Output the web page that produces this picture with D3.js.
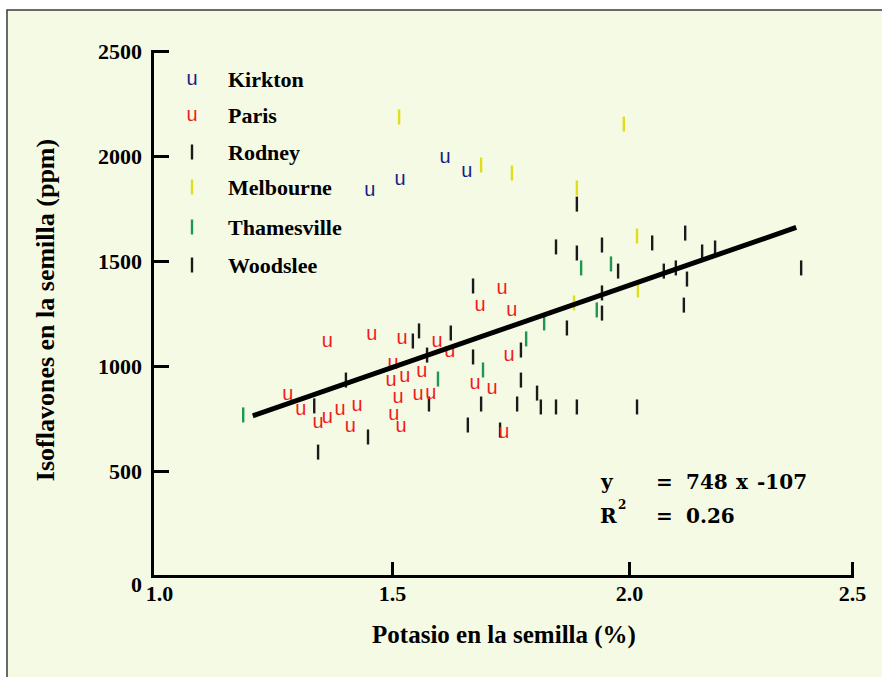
<!DOCTYPE html>
<html>
<head>
<meta charset="utf-8">
<script src="https://cdn.jsdelivr.net/npm/d3@7"></script>
<style>
  body { margin: 0; background: #ffffff; }
  svg { display: block; }
  .tick text { font-family: "Liberation Serif", "Times New Roman", serif; font-weight: bold; font-size: 22px; fill: #000; }
  .lbl { font-family: "Liberation Serif", "Times New Roman", serif; font-weight: bold; fill: #000; }
  .eq { font-family: "DejaVu Serif", serif; font-weight: bold; font-size: 20px; fill: #000; }
  .mark-u { font-family: "Liberation Sans", Arial, sans-serif; font-size: 20px; }
</style>
</head>
<body>
<svg id="chart" width="882" height="677"></svg>
<script>
// [K %, isoflavones ppm] per site
var kirkton = [[1.454, 1838], [1.517, 1890], [1.612, 1995], [1.658, 1924]];
var paris = [
  [1.283, 862], [1.365, 1119], [1.458, 1148], [1.521, 1133], [1.595, 1119], [1.622, 1071],
  [1.502, 1014], [1.498, 933], [1.527, 948], [1.563, 976], [1.310, 795], [1.346, 733],
  [1.365, 757], [1.392, 795], [1.427, 814], [1.413, 714], [1.513, 852], [1.504, 771],
  [1.519, 710], [1.555, 862], [1.582, 871], [1.732, 1371], [1.686, 1290], [1.753, 1262],
  [1.747, 1048], [1.675, 919], [1.711, 895], [1.736, 681]
];
var rodney = [
  [1.890, 1771], [1.846, 1567], [1.890, 1538], [1.943, 1576], [1.977, 1452], [2.052, 1586],
  [2.078, 1452], [2.105, 1467], [2.130, 1414], [2.123, 1290], [2.164, 1543], [2.193, 1562],
  [2.126, 1633], [2.386, 1467], [1.943, 1348], [1.943, 1252], [1.869, 1181], [2.018, 805]
];
var melbourne = [
  [1.515, 2186], [1.688, 1957], [1.753, 1919], [1.890, 1848], [1.989, 2152], [2.018, 1619],
  [2.020, 1362], [1.884, 1300]
];
var thamesville = [
  [1.190, 767], [1.597, 938], [1.692, 981], [1.783, 1129], [1.821, 1205], [1.899, 1467],
  [1.962, 1486], [1.932, 1267]
];
var woodslee = [
  [1.346, 590], [1.450, 662], [1.338, 810], [1.404, 933], [1.544, 1119], [1.557, 1167],
  [1.574, 1052], [1.578, 819], [1.624, 1157], [1.671, 1381], [1.671, 1043], [1.660, 719],
  [1.728, 695], [1.688, 819], [1.764, 819], [1.772, 933], [1.772, 1076], [1.806, 871],
  [1.814, 805], [1.846, 805], [1.890, 805]
];

var siteNames = ["Kirkton", "Paris", "Rodney", "Melbourne", "Thamesville", "Woodslee"];
var siteData = [kirkton, paris, rodney, melbourne, thamesville, woodslee];
var siteColors = ["#1c1c8c", "#f21e1e", "#1a1a1a", "#dede1e", "#1f9652", "#1a1a1a"];
var siteMarks = ["u", "u", "bar", "bar", "bar", "bar"];

var xTicks = [1.0, 1.5, 2.0, 2.5];
var yTicks = [0, 500, 1000, 1500, 2000, 2500];

// fitted line end points
var fitK = [1.21, 2.375];
var fitIso = [763, 1660];

var svg = d3.select("#chart");

// panel
svg.append("rect")
    .attr("x", 7).attr("y", 10)
    .attr("width", 900).attr("height", 700)
    .attr("fill", "#f5fae5")
    .attr("stroke", "#3a3a3a")
    .attr("stroke-width", 1.5);

// the original axis is not evenly spaced, so a piecewise scale
var x = d3.scaleLinear().domain(xTicks).range([152, 392, 629, 852]);
var y = d3.scaleLinear().domain([0, 2500]).range([576, 51]);

var yAxis = svg.append("g")
    .attr("transform", "translate(152,0)")
    .call(d3.axisLeft(y).tickValues(yTicks).tickSize(-17).tickSizeOuter(0).tickPadding(10)
        .tickFormat(d3.format("d")));

var xAxis = svg.append("g")
    .attr("transform", "translate(0,576)")
    .call(d3.axisBottom(x).tickValues(xTicks).tickSize(-14).tickSizeOuter(0).tickPadding(9)
        .tickFormat(d3.format(".1f")));

[yAxis, xAxis].forEach(function(g) {
    g.select(".domain").attr("stroke", "#000").attr("stroke-width", 3).attr("stroke-linecap", "square");
    g.selectAll(".tick line").attr("stroke", "#000").attr("stroke-width", 3);
});
yAxis.selectAll(".tick text").attr("dy", "0.36em");
yAxis.selectAll(".tick").filter(function(d) { return d === 0; }).select("text").attr("dy", "0.72em");
yAxis.selectAll(".tick").filter(function(d) { return d === 0; }).select("line").remove();
xAxis.selectAll(".tick").filter(function(d) { return d === 1.0; }).select("text").attr("dx", 7);
xAxis.selectAll(".tick").filter(function(d) { return d === 1.0; }).select("line").remove();

// axis titles
svg.append("text")
    .attr("class", "lbl")
    .attr("x", 504).attr("y", 643)
    .attr("text-anchor", "middle")
    .style("font-size", "25px")
    .text("Potasio en la semilla (%)");

svg.append("text")
    .attr("class", "lbl")
    .attr("transform", "translate(54,310) rotate(-90)")
    .attr("text-anchor", "middle")
    .style("font-size", "26px")
    .text("Isoflavones en la semilla (ppm)");

// points
function drawMarks(sel, mark, color) {
    if (mark === "u") {
        sel.append("text")
            .attr("class", "mark-u")
            .attr("text-anchor", "middle")
            .attr("dy", 5.5)
            .attr("fill", color)
            .text("u");
    } else {
        sel.append("line")
            .attr("y1", -7.5).attr("y2", 7.5)
            .attr("stroke", color)
            .attr("stroke-width", 2.4);
    }
}

// draw the bars first, then the letters on top
var order = [2, 5, 3, 4, 1, 0];
order.forEach(function(i) {
    var g = svg.append("g").selectAll("g")
        .data(siteData[i])
        .enter().append("g")
        .attr("transform", function(d) { return "translate(" + x(d[0]) + "," + y(d[1]) + ")"; });
    drawMarks(g, siteMarks[i], siteColors[i]);
});

// regression line
svg.append("line")
    .attr("x1", x(fitK[0])).attr("y1", y(fitIso[0]))
    .attr("x2", x(fitK[1])).attr("y2", y(fitIso[1]))
    .attr("stroke", "#000")
    .attr("stroke-width", 5);

// legend
var legendY = [79, 115, 152, 187, 227, 265];
var legend = svg.append("g").selectAll("g")
    .data(siteNames)
    .enter().append("g")
    .attr("transform", function(d, i) { return "translate(192," + legendY[i] + ")"; });

legend.each(function(d, i) {
    drawMarks(d3.select(this), siteMarks[i], siteColors[i]);
});

legend.append("text")
    .attr("class", "lbl")
    .attr("x", 36)
    .attr("dy", 8)
    .style("font-size", "22px")
    .text(function(d) { return d; });

// equation
var eq = svg.append("g");
eq.append("text").attr("class", "eq").attr("x", 601).attr("y", 489).text("y");
eq.append("text").attr("class", "eq").attr("x", 656).attr("y", 489).text("=");
eq.append("text").attr("class", "eq").attr("x", 686).attr("y", 489).text("748");
eq.append("text").attr("class", "eq").attr("x", 736).attr("y", 489).text("x");
eq.append("text").attr("class", "eq").attr("x", 757).attr("y", 489).text("-107");
eq.append("text").attr("class", "eq").attr("x", 600).attr("y", 523).text("R");
eq.append("text").attr("class", "eq").attr("x", 618).attr("y", 509).style("font-size", "12px").text("2");
eq.append("text").attr("class", "eq").attr("x", 656).attr("y", 523).text("=");
eq.append("text").attr("class", "eq").attr("x", 686).attr("y", 523).text("0.26");
</script>
</body>
</html>
